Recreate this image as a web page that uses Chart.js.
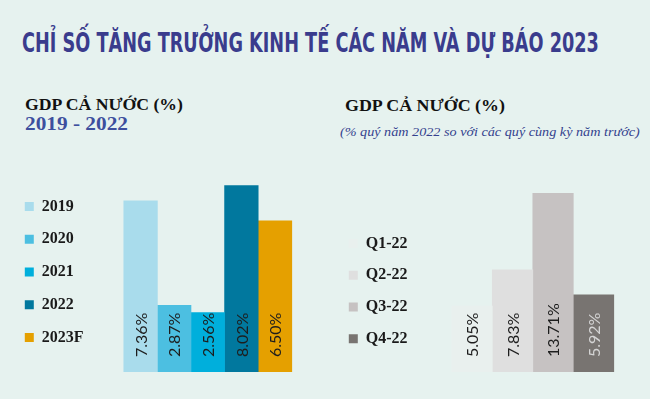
<!DOCTYPE html>
<html lang="vi">
<head>
<meta charset="utf-8">
<script src="https://cdn.jsdelivr.net/npm/chart.js@4.4.0/dist/chart.umd.min.js"></script>
<style>
    html, body { margin: 0; padding: 0; }
    body { width: 650px; height: 399px; background: #e6f2ef; position: relative; overflow: hidden; }
    .txt { position: absolute; white-space: nowrap; line-height: 1; transform-origin: 0 0; }
    #title { left: 22px; top: 30px; font-family: 'DejaVu Sans Condensed', 'Liberation Sans Narrow', sans-serif; font-weight: bold; font-size: 26px; color: #3a3c8d; }
    .head { font-family: 'Liberation Serif', serif; font-weight: bold; font-size: 17px; color: #111; }
    #head-left { left: 25px; top: 96px; }
    #head-right { left: 345px; top: 97px; }
    #years { left: 25px; top: 115px; font-family: 'Liberation Serif', serif; font-weight: bold; font-size: 18px; color: #3d4f9e; }
    #sub-right { left: 340px; top: 125px; font-family: 'Liberation Serif', serif; font-style: italic; font-size: 13px; color: #34428e; }
    .chart-box { position: absolute; top: 150px; width: 325px; height: 240px; }
</style>
</head>
<body>
<div class="txt" id="title">CHỈ SỐ TĂNG TRƯỞNG KINH TẾ CÁC NĂM VÀ DỰ BÁO 2023</div>
<div class="txt head" id="head-left">GDP CẢ NƯỚC (%)</div>
<div class="txt" id="years">2019 - 2022</div>
<div class="txt head" id="head-right">GDP CẢ NƯỚC (%)</div>
<div class="txt" id="sub-right">(% quý năm 2022 so với các quý cùng kỳ năm trước)</div>
<div class="chart-box" style="left:0"><canvas id="gdp-years" width="325" height="240"></canvas></div>
<div class="chart-box" style="left:325px"><canvas id="gdp-quarters" width="325" height="240"></canvas></div>

<script>
// Yearly GDP growth, whole country (%)
const yearLabels = ['2019', '2020', '2021', '2022', '2023F'];
const yearValues = [7.36, 2.87, 2.56, 8.02, 6.50];
const yearColors = ['#a9dcec', '#4cbfe1', '#00afdc', '#01789e', '#e5a000'];
const yearTextColors = ['#1d1d1d', '#1d1d1d', '#1d1d1d', '#1d1d1d', '#1d1d1d'];

// 2022 quarters vs same quarter of previous year (%)
const quarterLabels = ['Q1-22', 'Q2-22', 'Q3-22', 'Q4-22'];
const quarterValues = [5.05, 7.83, 13.71, 5.92];
const quarterColors = ['#e9f0ee', '#dfdfdf', '#c6c2c2', '#787471'];
const quarterTextColors = ['#1d1d1d', '#1d1d1d', '#1d1d1d', '#d4d4d4'];

/**
 * Squeeze a text line to a given width (the original uses condensed fonts)
 */
function fitWidth(id, width) {
    const el = document.getElementById(id);
    el.style.transform = `scaleX(${width / el.offsetWidth})`;
}

fitWidth('title', 577);
fitWidth('head-left', 158);
fitWidth('head-right', 160);
fitWidth('years', 103);
fitWidth('sub-right', 300);

/**
 * Rotated value labels sitting at the foot of each bar
 */
const barValueLabels = {
    id: 'barValueLabels',
    afterDatasetsDraw(chart, args, opts) {
        const ctx = chart.ctx;
        chart.data.datasets.forEach((ds, i) => {
            const meta = chart.getDatasetMeta(i);
            meta.data.forEach((bar, j) => {
                ctx.save();
                ctx.translate(bar.x + 1, bar.base - opts.offset);
                ctx.rotate(-Math.PI / 2);
                ctx.font = opts.font;
                ctx.fillStyle = opts.colors[i];
                ctx.textAlign = 'left';
                ctx.textBaseline = 'middle';
                ctx.fillText(ds.data[j].toFixed(2) + '%', 0, 0);
                ctx.restore();
            });
        });
    }
};

function makeChart(canvasId, labels, values, colors, textColors, cfg) {
    const ctx = document.getElementById(canvasId).getContext('2d');
    return new Chart(ctx, {
        type: 'bar',
        data: {
            labels: [''],
            datasets: labels.map((label, i) => ({
                label,
                data: [values[i]],
                backgroundColor: colors[i],
                borderWidth: 0,
                barThickness: cfg.barWidth
            }))
        },
        options: {
            responsive: false,
            animation: false,
            events: [],
            layout: { padding: cfg.padding },
            scales: {
                x: { display: false, offset: true },
                y: { display: false, min: 0, max: cfg.max }
            },
            plugins: {
                legend: {
                    position: 'left',
                    align: 'center',
                    title: cfg.legendTitle,
                    labels: {
                        boxWidth: 9,
                        boxHeight: 9,
                        padding: cfg.legendGap,
                        color: '#1a1a1a',
                        font: { family: 'Liberation Serif', weight: 'bold', size: 16 }
                    }
                },
                tooltip: { enabled: false },
                barValueLabels: {
                    offset: 15,
                    font: '16px Lato',
                    colors: textColors
                }
            }
        },
        plugins: [barValueLabels]
    });
}

makeChart('gdp-years', yearLabels, yearValues, yearColors, yearTextColors, {
    barWidth: 33.6,
    max: 8.6,
    padding: { left: 8, top: 22, bottom: 18, right: 3 },
    legendGap: 16.8,
    legendTitle: { display: false }
});

makeChart('gdp-quarters', quarterLabels, quarterValues, quarterColors, quarterTextColors, {
    barWidth: 40.5,
    max: 14.5,
    padding: { left: 8, top: 33, bottom: 18, right: 2 },
    legendGap: 15.8,
    legendTitle: { display: true, text: '', font: { size: 1 }, padding: { top: 13, bottom: 13 } }
});
</script>
</body>
</html>
